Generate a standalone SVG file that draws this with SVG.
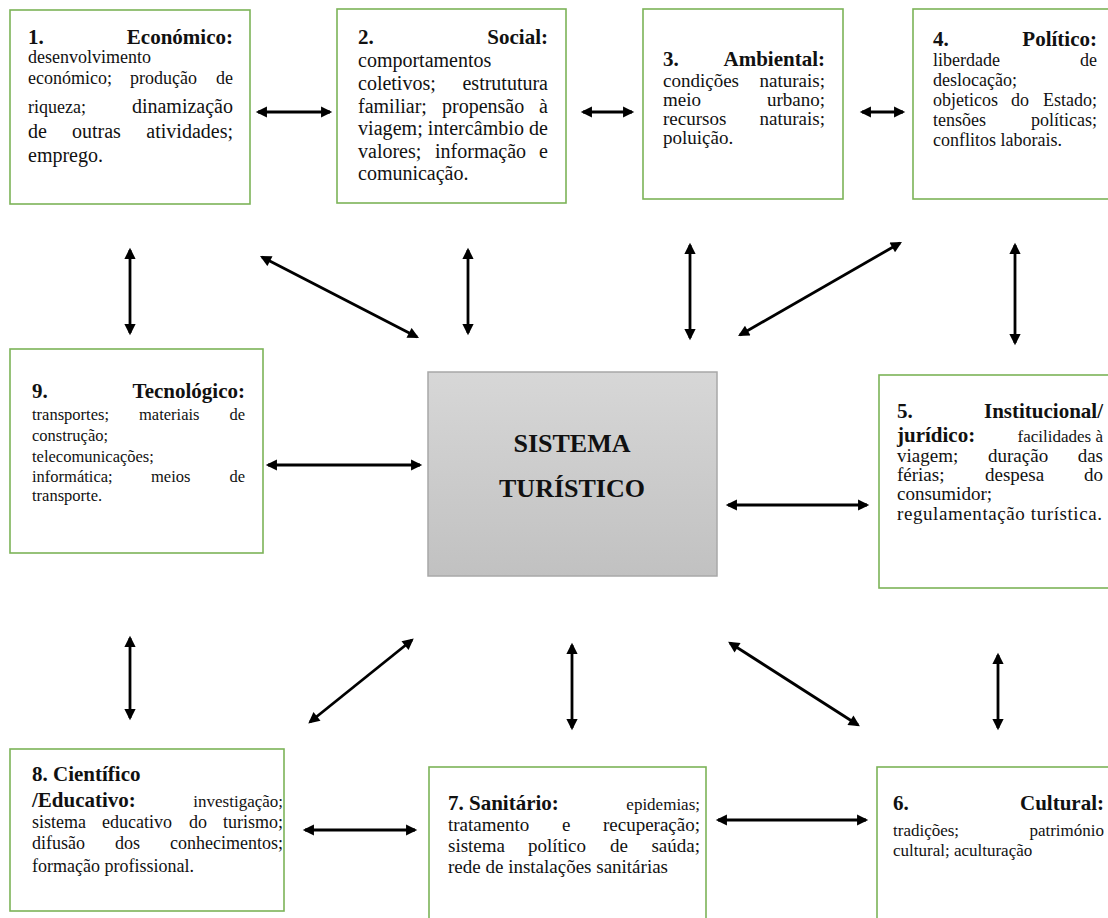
<svg xmlns="http://www.w3.org/2000/svg" width="1108" height="918" viewBox="0 0 1108 918">
  <defs>
    <linearGradient id="core" x1="0" y1="0" x2="0" y2="1">
      <stop offset="0" stop-color="#d7d7d7"/>
      <stop offset="1" stop-color="#c1c1c1"/>
    </linearGradient>
    <marker id="ah" viewBox="0 0 10 10" refX="8" refY="5" markerWidth="4.6" markerHeight="4" orient="auto-start-reverse" markerUnits="strokeWidth">
      <path d="M0,0 L10,5 L0,10 z" fill="#000"/>
    </marker>
    <style>
      .box { fill: #fff; stroke: #7cb358; stroke-width: 1.6; }
      .core { fill: url(#core); stroke: #a8a8a8; stroke-width: 1.5; }
      text { font-family: "Liberation Serif", "Times New Roman", serif; fill: #111; }
      .t { font-size: 21px; font-weight: bold; }
      .b { font-size: 18px; }
      .b20 { font-size: 20px; }
      .b19 { font-size: 19px; }
      .b17 { font-size: 17px; }
      .s { font-size: 16.5px; }
      .e { text-anchor: end; }
      .c { font-size: 26px; font-weight: bold; text-anchor: middle; }
      .arr line { stroke: #000; stroke-width: 2.8; marker-start: url(#ah); marker-end: url(#ah); }
    </style>
  </defs>
  <rect width="1108" height="918" fill="#fff"/>

  <!-- connectors -->
  <g id="connectors" class="arr">
    <line x1="258" y1="112" x2="330" y2="112"/>
    <line x1="583" y1="112" x2="632" y2="112"/>
    <line x1="862" y1="112" x2="903" y2="112"/>
    <line x1="130" y1="250" x2="130" y2="333"/>
    <line x1="262" y1="257" x2="417" y2="337"/>
    <line x1="468" y1="250" x2="468" y2="333"/>
    <line x1="690" y1="245" x2="690" y2="338"/>
    <line x1="900" y1="243" x2="740" y2="335"/>
    <line x1="1015" y1="245" x2="1015" y2="343"/>
    <line x1="268" y1="465" x2="420" y2="465"/>
    <line x1="728" y1="505" x2="867" y2="505"/>
    <line x1="130" y1="638" x2="130" y2="718"/>
    <line x1="412" y1="640" x2="310" y2="722"/>
    <line x1="572" y1="645" x2="572" y2="728"/>
    <line x1="730" y1="643" x2="858" y2="725"/>
    <line x1="998" y1="655" x2="998" y2="728"/>
    <line x1="305" y1="830" x2="415" y2="830"/>
    <line x1="718" y1="820" x2="866" y2="820"/>
  </g>

  <!-- 1. Económico -->
  <g id="economico">
    <rect class="box" x="10" y="10" width="240" height="194"/>
    <text class="t" x="28" y="44">1.</text>
    <text class="t e" x="233" y="44">Económico:</text>
    <text class="b" x="28" y="63">desenvolvimento</text>
    <text class="b" x="28" y="84">económico;</text>
    <text class="b" x="130" y="84">produção</text>
    <text class="b e" x="233" y="84">de</text>
    <text class="b" x="28" y="113">riqueza;</text>
    <text class="b20 e" x="233" y="113">dinamização</text>
    <text class="b20" x="28" y="138">de</text>
    <text class="b20" x="72" y="138">outras</text>
    <text class="b20 e" x="233" y="138">atividades;</text>
    <text class="b20" x="28" y="162">emprego.</text>
  </g>

  <!-- 2. Social -->
  <g id="social">
    <rect class="box" x="337" y="9" width="229" height="194"/>
    <text class="t" x="358" y="44">2.</text>
    <text class="t e" x="548" y="44">Social:</text>
    <text class="b20" x="358" y="67">comportamentos</text>
    <text class="b20" x="358" y="90">coletivos;</text>
    <text class="b20 e" x="548" y="90">estrututura</text>
    <text class="b20" x="358" y="113">familiar;</text>
    <text class="b20" x="442" y="113">propensão</text>
    <text class="b20 e" x="548" y="113">à</text>
    <text class="b20" x="358" y="135" textLength="190" lengthAdjust="spacing">viagem; intercâmbio de</text>
    <text class="b20" x="358" y="158">valores;</text>
    <text class="b20" x="435" y="158">informação</text>
    <text class="b20 e" x="548" y="158">e</text>
    <text class="b20" x="358" y="180">comunicação.</text>
  </g>

  <!-- 3. Ambiental -->
  <g id="ambiental">
    <rect class="box" x="643" y="9" width="200" height="190"/>
    <text class="t" x="663" y="66">3.</text>
    <text class="t e" x="825" y="66">Ambiental:</text>
    <text class="b19" x="663" y="87">condições</text>
    <text class="b19 e" x="825" y="87">naturais;</text>
    <text class="b19" x="663" y="106">meio</text>
    <text class="b19 e" x="825" y="106">urbano;</text>
    <text class="b19" x="663" y="125">recursos</text>
    <text class="b19 e" x="825" y="125">naturais;</text>
    <text class="b19" x="663" y="144">poluição.</text>
  </g>

  <!-- 4. Político -->
  <g id="politico">
    <rect class="box" x="913" y="9" width="200" height="190"/>
    <text class="t" x="933" y="46">4.</text>
    <text class="t e" x="1097" y="46">Político:</text>
    <text class="b" x="933" y="66">liberdade</text>
    <text class="b e" x="1097" y="66">de</text>
    <text class="b" x="933" y="86">deslocação;</text>
    <text class="b" x="933" y="106">objeticos</text>
    <text class="b" x="1011" y="106">do</text>
    <text class="b e" x="1097" y="106">Estado;</text>
    <text class="b" x="933" y="126">tensões</text>
    <text class="b e" x="1097" y="126">políticas;</text>
    <text class="b" x="933" y="146">conflitos laborais.</text>
  </g>

  <!-- 9. Tecnológico -->
  <g id="tecnologico">
    <rect class="box" x="10" y="349" width="253" height="204"/>
    <text class="t" x="32" y="398">9.</text>
    <text class="t e" x="245" y="398">Tecnológico:</text>
    <text class="s" x="32" y="420">transportes;</text>
    <text class="s" x="139" y="420">materiais</text>
    <text class="s e" x="245" y="420">de</text>
    <text class="s" x="32" y="441">construção;</text>
    <text class="s" x="32" y="462">telecomunicações;</text>
    <text class="s" x="32" y="482">informática;</text>
    <text class="s" x="151" y="482">meios</text>
    <text class="s e" x="245" y="482">de</text>
    <text class="s" x="32" y="501">transporte.</text>
  </g>

  <!-- sistema turístico (centre) -->
  <g id="sistema">
    <rect class="core" x="428" y="372" width="289" height="204"/>
    <text class="c" x="572" y="452">SISTEMA</text>
    <text class="c" x="572" y="497">TURÍSTICO</text>
  </g>

  <!-- 5. Institucional/jurídico -->
  <g id="institucional">
    <rect class="box" x="879" y="375" width="235" height="213"/>
    <text class="t" x="897" y="418">5.</text>
    <text class="t e" x="1103" y="418">Institucional/</text>
    <text class="t" x="897" y="442">jurídico:</text>
    <text class="b17 e" x="1103" y="442">facilidades à</text>
    <text class="b19" x="897" y="462">viagem;</text>
    <text class="b19" x="988" y="462">duração</text>
    <text class="b19 e" x="1103" y="462">das</text>
    <text class="b19" x="897" y="481">férias;</text>
    <text class="b19" x="985" y="481">despesa</text>
    <text class="b19 e" x="1103" y="481">do</text>
    <text class="b19" x="897" y="500">consumidor;</text>
    <text class="b19" x="897" y="520" textLength="205" lengthAdjust="spacing">regulamentação turística.</text>
  </g>

  <!-- 8. Científico/Educativo -->
  <g id="cientifico">
    <rect class="box" x="10" y="749" width="274" height="162"/>
    <text class="t" x="32" y="781">8. Científico</text>
    <text class="t" x="32" y="807">/Educativo:</text>
    <text class="b17 e" x="283" y="807">investigação;</text>
    <text class="b" x="32" y="828">sistema</text>
    <text class="b" x="102" y="828">educativo</text>
    <text class="b" x="189" y="828">do</text>
    <text class="b e" x="283" y="828">turismo;</text>
    <text class="b" x="32" y="849">difusão</text>
    <text class="b" x="115" y="849">dos</text>
    <text class="b e" x="283" y="849">conhecimentos;</text>
    <text class="b" x="32" y="872">formação profissional.</text>
  </g>

  <!-- 7. Sanitário -->
  <g id="sanitario">
    <rect class="box" x="429" y="767" width="277" height="160"/>
    <text class="t" x="448" y="810">7. Sanitário:</text>
    <text class="b17 e" x="700" y="810">epidemias;</text>
    <text class="b19" x="448" y="831">tratamento</text>
    <text class="b19" x="562" y="831">e</text>
    <text class="b19 e" x="700" y="831">recuperação;</text>
    <text class="b19" x="448" y="852">sistema</text>
    <text class="b19" x="528" y="852">político</text>
    <text class="b19" x="610" y="852">de</text>
    <text class="b19 e" x="700" y="852">saúda;</text>
    <text class="b19" x="448" y="873">rede de instalações sanitárias</text>
  </g>

  <!-- 6. Cultural -->
  <g id="cultural">
    <rect class="box" x="877" y="767" width="240" height="160"/>
    <text class="t" x="893" y="810">6.</text>
    <text class="t e" x="1104" y="810">Cultural:</text>
    <text class="b17" x="893" y="836">tradições;</text>
    <text class="b17 e" x="1104" y="836">património</text>
    <text class="b17" x="893" y="856">cultural; aculturação</text>
  </g>
</svg>
